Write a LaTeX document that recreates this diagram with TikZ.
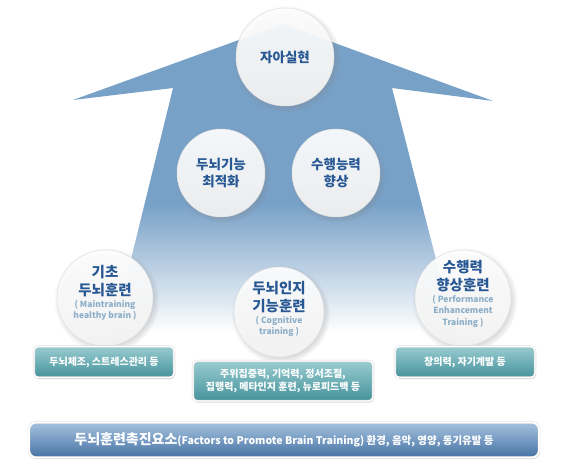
\documentclass[tikz,border=0pt]{standalone}
\usepackage{fontspec}
\setmainfont{Noto Sans CJK KR}
\usetikzlibrary{
  shadows,
  positioning
}
\definecolor{arrowblue}{RGB}{120,161,200}
\definecolor{titleblue}{RGB}{40,88,148}
\definecolor{subblue}{RGB}{140,174,200}
\definecolor{tealtop}{RGB}{152,204,208}
\definecolor{tealbot}{RGB}{70,146,156}
\definecolor{bartop}{RGB}{165,194,222}
\definecolor{barbot}{RGB}{70,114,164}
\pgfdeclareverticalshading{shaftfade}{100bp}{color(0bp)=(white); color(27bp)=(white);
  color(47bp)=(arrowblue); color(100bp)=(arrowblue)}
\tikzset{
  goalnode/.style={circle,inner sep=0pt,draw=gray!25,line width=0.5pt,
    top color=white,bottom color=gray!9,fill opacity=0.92,text opacity=1,
    circular drop shadow={shadow xshift=1.5pt,shadow yshift=-2pt,opacity=0.3},
    align=center,text=titleblue,font=\fontsize{13.5}{17}\selectfont\bfseries},
  titletext/.style={align=center,text=titleblue,inner sep=0pt,
    font=\fontsize{14.5}{17.5}\selectfont\bfseries},
  subtext/.style={align=center,text=subblue,inner sep=0pt,
    font=\fontsize{8.5}{11.5}\selectfont\bfseries},
  itembox/.style={rectangle,rounded corners=4pt,draw=gray!30,double=white,
    double distance=1.4pt,top color=tealtop,bottom color=tealbot,
    drop shadow={shadow xshift=1pt,shadow yshift=-1.5pt,opacity=0.3},
    text=white,align=center,font=\fontsize{10}{13.5}\selectfont\bfseries},
  factorbar/.style={rectangle,rounded corners=7pt,draw=gray!30,double=white,
    double distance=1.6pt,top color=bartop,bottom color=barbot,
    drop shadow={shadow xshift=1pt,shadow yshift=-1.5pt,opacity=0.3},
    text=white,minimum width=510pt,minimum height=35pt}
}

\begin{document}
\begin{tikzpicture}[x=1pt,y=-1pt]
\useasboundingbox (0,0) rectangle (562,470);

% Arrow
\shade[shading=shaftfade] (283,24) -- (493,101) -- (392,88) -- (458,345)
  -- (110,345) -- (173,88) -- (73,100) -- cycle;

% Goals
\node[goalnode,minimum size=98pt] (self) at (285,57) {자아실현};
\node[goalnode,minimum size=88pt] (optimize) at (221,173) {두뇌기능\\최적화};
\node[goalnode,minimum size=88pt] (perform) at (336,173) {수행능력\\향상};

% Training
\node[goalnode,minimum size=96pt] (basic) at (105,298) {};
\node[titletext] (basictitle) at ([yshift=17pt]basic.center) {기초\\두뇌훈련};
\node[subtext,below=3pt of basictitle] (basicsub) {( Maintraining\\healthy brain )};

\node[goalnode,minimum size=90pt] (cognitive) at (279,312) {};
\node[titletext] (cogtitle) at ([yshift=15pt]cognitive.center) {두뇌인지\\기능훈련};
\node[subtext,below=3pt of cogtitle] (cogsub) {( Cognitive\\training )};

\node[goalnode,minimum size=96pt] (enhance) at (463,298) {};
\node[titletext] (enhtitle) at ([yshift=22pt]enhance.center) {수행력\\향상훈련};
\node[subtext,below=3pt of enhtitle] (enhsub) {( Performance\\Enhancement\\Training )};

% Items
\node[itembox,minimum width=140pt,minimum height=31pt] (basicbox) at (104,362)
  {두뇌체조, 스트레스관리 등};
\node[itembox,minimum width=180pt,minimum height=40pt] (cogbox) at (283,381)
  {주위집중력, 기억력, 정서조절,\\집행력, 메타인지 훈련, 뉴로피드백 등};
\node[itembox,minimum width=140pt,minimum height=31pt] (enhbox) at (465,362)
  {창의력, 자기계발 등};

% Factors
\node[factorbar] (factors) at (284,440) {\bfseries{\fontsize{14}{16}\selectfont 두뇌훈련촉진요소}%
  {\fontsize{10.5}{13}\selectfont(Factors to Promote Brain Training) 환경, 음악, 영양, 동기유발 등}};

\end{tikzpicture}
\end{document}
